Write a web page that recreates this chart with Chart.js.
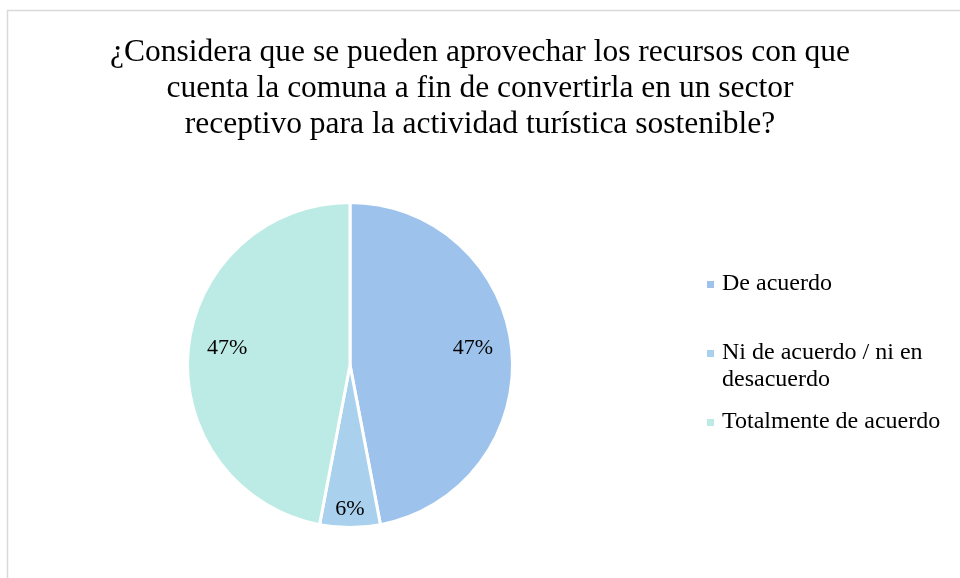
<!DOCTYPE html>
<html>
<head>
<meta charset="utf-8">
<script src="https://cdn.jsdelivr.net/npm/chart.js@4"></script>
<style>
  html, body { margin: 0; padding: 0; background: #fff; }
  #wrap { width: 960px; height: 578px; position: relative; }
</style>
</head>
<body>
<div id="wrap"><canvas id="pieChart" width="960" height="578"></canvas></div>
<script>
"use strict";

// data
const titleLines = [
    "¿Considera que se pueden aprovechar los recursos con que",
    "cuenta la comuna a fin de convertirla en un sector",
    "receptivo para la actividad turística sostenible?"
];
const categories = ["De acuerdo", "Ni de acuerdo / ni en desacuerdo", "Totalmente de acuerdo"];
const percents = [47, 6, 47];
const sliceColors = ["#9dc3ec", "#a9d1ee", "#bcebe5"];

const serif = "'Liberation Serif', 'Times New Roman', serif";

// wrap a legend label into lines no wider than maxW
function wrapText(ctx, text, maxW) {
    let words = text.split(" "), lines = [], cur = "";
    words.forEach(w => {
        let test = cur ? cur + " " + w : w;
        if (ctx.measureText(test).width > maxW && cur) {
            lines.push(cur);
            cur = w;
        } else cur = test;
    });
    if (cur) lines.push(cur);
    return lines;
}

// frame, title, slice labels and the legend on the right
const decorations = {
    id: "decorations",
    beforeDraw(chart) {
        const ctx = chart.ctx;
        ctx.save();
        ctx.strokeStyle = "#d9d9d9";
        ctx.lineWidth = 1.5;
        ctx.strokeRect(7.5, 10.5, 1200, 1200);
        ctx.restore();
    },
    afterDraw(chart) {
        const ctx = chart.ctx;
        ctx.save();
        ctx.fillStyle = "#000";
        ctx.textAlign = "center";
        ctx.textBaseline = "middle";

        // title
        ctx.font = "31.5px " + serif;
        titleLines.forEach((t, i) => ctx.fillText(t, 480, 53 + i * 36));

        // percentage labels inside the slices
        ctx.font = "22px " + serif;
        const arcs = chart.getDatasetMeta(0).data;
        const fractions = [0.76, 0.88, 0.76];
        arcs.forEach((arc, i) => {
            const mid = (arc.startAngle + arc.endAngle) / 2;
            const r = arc.outerRadius * fractions[i];
            let x = arc.x + Math.cos(mid) * r;
            let y = arc.y + Math.sin(mid) * r;
            if (i !== 1) y -= 5;
            else y += 1;
            ctx.fillText(percents[i] + "%", x, y);
        });

        // legend
        ctx.font = "24px " + serif;
        ctx.textAlign = "left";
        const legendY = [284, 353, 422];
        categories.forEach((c, i) => {
            const lines = wrapText(ctx, c, 232);
            ctx.fillStyle = sliceColors[i];
            ctx.fillRect(707, legendY[i] - 3, 7, 7);
            ctx.fillStyle = "#000";
            lines.forEach((l, j) => ctx.fillText(l, 722, legendY[i] + j * 27));
        });
        ctx.restore();
    }
};

new Chart(document.getElementById("pieChart"), {
    type: "pie",
    data: {
        labels: categories,
        datasets: [{
            data: percents,
            backgroundColor: sliceColors,
            borderColor: "#ffffff",
            borderWidth: 3
        }]
    },
    options: {
        responsive: false,
        animation: false,
        layout: {
            padding: { left: 186, right: 446, top: 201, bottom: 49 }
        },
        plugins: {
            legend: { display: false },
            tooltip: { enabled: false },
            title: { display: false }
        }
    },
    plugins: [decorations]
});
</script>
</body>
</html>
